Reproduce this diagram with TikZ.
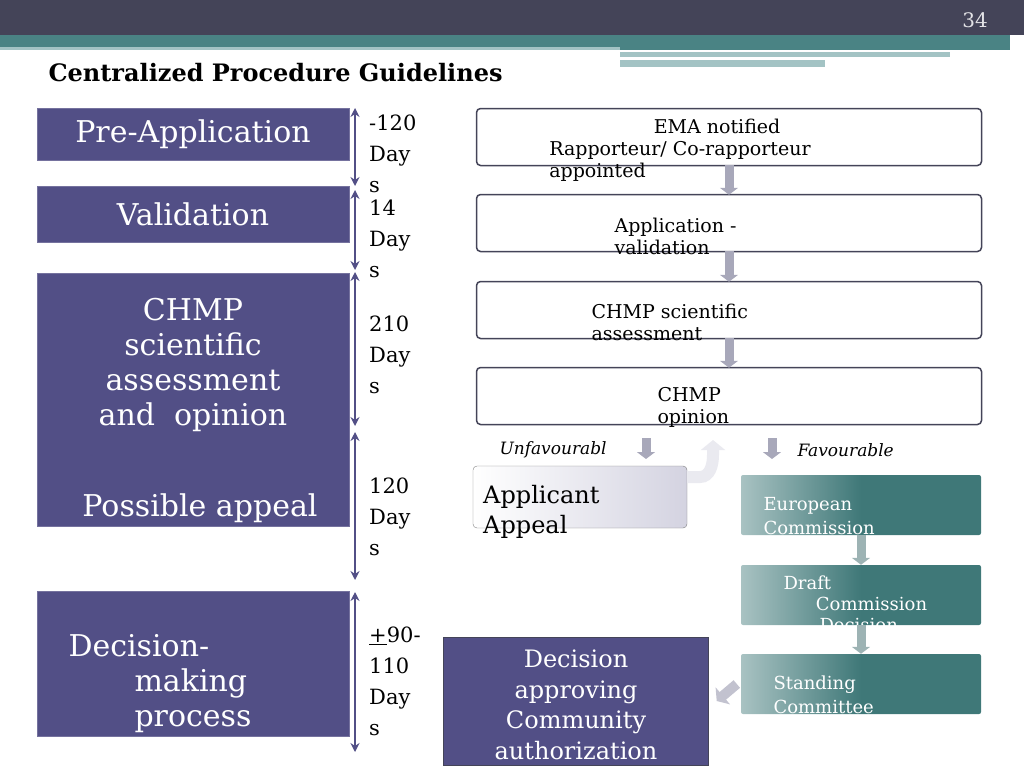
\documentclass[tikz,border=0pt]{standalone}
\usepackage{fontspec}
\setmainfont{DejaVu Serif}
\usetikzlibrary{arrows.meta,positioning}
\definecolor{slate}{HTML}{444458}
\definecolor{band}{HTML}{4A8384}
\definecolor{paleband}{HTML}{A3C3C4}
\definecolor{violet}{HTML}{524F86}
\definecolor{tealbox}{HTML}{3F7878}
\definecolor{greyarr}{HTML}{A8A8BA}
\definecolor{tealarr}{HTML}{9DB3B4}
\begin{document}
\begin{tikzpicture}[x=1pt,y=-1pt,
  phase/.style={fill=violet,draw=violet!80!white,text=white,font=\fontsize{30}{32}\selectfont,align=center,inner sep=0pt},
  span/.style={{Stealth[length=9pt,width=9pt]}-{Stealth[length=9pt,width=9pt]},violet,line width=2.5pt},
  days/.style={anchor=north west,align=left,font=\fontsize{21}{31}\selectfont,inner sep=0pt},
  stage/.style={draw=slate,line width=1.5pt,rounded corners=4pt,fill=white,minimum width=505pt,minimum height=57pt,align=left,font=\fontsize{19}{22}\selectfont},
  ecbox/.style={rounded corners=2pt,left color=tealbox!45!white,right color=tealbox,middle color=tealbox,minimum width=240pt,minimum height=60pt,text=white,align=left,font=\fontsize{18}{21}\selectfont},
  down/.style={-{Triangle[length=7pt,width=18pt]},line width=9pt,#1},
  down/.default=greyarr]
\useasboundingbox (0,0) rectangle (1024,768);
% header
\fill[slate] (0,0) rectangle (1024,35);
\fill[band] (0,35) rectangle (1010,47);
\fill[band] (620,47) rectangle (1010,50);
\fill[paleband] (620,52) rectangle (950,57);
\fill[paleband] (620,60) rectangle (825,67);
\fill[paleband] (0,47) rectangle (620,50);
\node[text=white!85!slate,font=\fontsize{20}{22}\selectfont] (pg) at (975,20) {34};
\node[anchor=west,font=\bfseries\fontsize{24}{26}\selectfont] (title) at (45,73) {Centralized Procedure Guidelines};
% phases on the left
\node[phase,minimum width=312pt,minimum height=52pt] (pre) at (193,134) {Pre-Application};
\node[phase,minimum width=312pt,minimum height=56pt] (val) at (193,214) {Validation};
\node[phase,minimum width=312pt,minimum height=253pt,text depth=0pt] (chmp) at (193,400) {};
\node[text=white,font=\fontsize{30}{35}\selectfont,align=center] (chmpt) at (193,365) {CHMP\\scientific\\assessment\\and\ \ opinion};
\node[text=white,font=\fontsize{30}{32}\selectfont] (appl) at (200,508) {Possible appeal};
\node[phase,minimum width=312pt,minimum height=145pt] (dec) at (193,664) {};
\node[text=white,font=\fontsize{30}{35}\selectfont,align=left] (dect) at (160,684) {Decision-\\\hspace*{2.2em}making\\\hspace*{2.2em}process};
% time spans
\coordinate (a1) at (355,108); \coordinate (a2) at (355,186);
\coordinate (b1) at (355,190); \coordinate (b2) at (355,270);
\coordinate (c1) at (355,272); \coordinate (c2) at (355,426);
\coordinate (d1) at (355,432); \coordinate (d2) at (355,580);
\coordinate (e1) at (355,592); \coordinate (e2) at (355,752);
\foreach \s/\t in {a1/a2,b1/b2,c1/c2,d1/d2,e1/e2}
  \draw[span] (\s) -- (\t);
\node[days] (t1) at (369,115) {-120\\Day\\s};
\node[days] (t2) at (369,200) {14\\Day\\s};
\node[days] (t3) at (369,316) {210\\Day\\s};
\node[days] (t4) at (369,478) {120\\Day\\s};
\node[days] (t5) at (369,627) {\underline{+}90-\\110\\Day\\s};
% EMA steps
\node[stage] (ema) at (729,137) {};
\node[font=\fontsize{19}{22}\selectfont,align=left] at (680,150) {\hspace*{5.5em}EMA notified\\Rapporteur/ Co-rapporteur\\appointed};
\node[stage] (valid) at (729,223) {};
\node[font=\fontsize{19}{22}\selectfont,align=left,anchor=west] at (611,236) {Application -\\validation};
\node[stage] (sci) at (729,310) {};
\node[font=\fontsize{19}{22}\selectfont,align=left,anchor=west] at (588,322) {CHMP scientific\\assessment};
\node[stage] (opin) at (729,396) {};
\node[font=\fontsize{19}{22}\selectfont,align=left,anchor=west] at (654,407) {CHMP\\opinion};
\draw[down] ([yshift=1pt]ema.south) -- ([yshift=-1pt]valid.north);
\draw[down] ([yshift=1pt]valid.south) -- ([yshift=-1pt]sci.north);
\draw[down] ([yshift=1pt]sci.south) -- ([yshift=-1pt]opin.north);
% outcomes
\node[anchor=west,font=\itshape\fontsize{17}{24}\selectfont,align=left] (unf) at (496,460) {Unfavourabl\\\hspace*{0.1em}e};
\node[anchor=west,font=\itshape\fontsize{17}{20}\selectfont] (fav) at (794,450) {Favourable};
\coordinate (u1) at (646,438); \coordinate (u2) at (646,459);
\coordinate (f1) at (772,438); \coordinate (f2) at (772,459);
\draw[down] (u1) -- (u2);
\draw[down] (f1) -- (f2);
\node[draw=gray,rounded corners=4pt,left color=white,right color=violet!25!white,minimum width=214pt,minimum height=62pt] (appeal) at (580,497) {};
\node[anchor=west,font=\fontsize{24}{30}\selectfont,align=left,inner sep=0pt] (appt) at (483,512) {Applicant\\Appeal};
\draw[-{Triangle[length=10pt,width=24pt]},line width=12pt,violet!12!white] (appeal.east|-0,477) -- (700,477) to[out=0,in=-90] (713,455) -- (713,440);
\node[ecbox] (ec) at (861,505) {};
\node[anchor=west,text=white,font=\fontsize{18}{24}\selectfont,align=left] at (760,516) {European\\Commission};
\node[ecbox] (draft) at (861,595) {};
\node[anchor=west,text=white,font=\fontsize{18}{21}\selectfont,align=left] at (780,604) {Draft\\\hspace*{1.8em}Commission\\\hspace*{2.0em}Decision};
\node[ecbox] (stand) at (861,684) {};
\node[anchor=west,text=white,font=\fontsize{18}{24}\selectfont,align=left] at (770,695) {Standing\\Committee};
\draw[down=tealarr] (ec.south) -- (draft.north);
\draw[down=tealarr] (draft.south) -- (stand.north);
\node[fill=violet,draw=slate,minimum width=265pt,minimum height=128pt] (final) at (576,701) {};
\node[text=white,font=\fontsize{24}{30.5}\selectfont,align=center] at (576,705) {Decision\\approving\\Community\\authorization};
\draw[-{Triangle[length=8pt,width=22pt]},line width=10pt,greyarr!70!white] ([xshift=-4pt]stand.west) -- ([xshift=8pt]final.east);
\end{tikzpicture}
\end{document}
